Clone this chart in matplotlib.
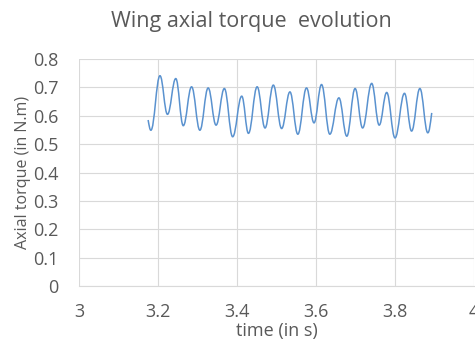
import numpy as np
import matplotlib.pyplot as plt
from matplotlib.path import Path
from matplotlib.patches import PathPatch

# Curve: start point, alternating troughs/peaks, end point
time_s = [3.175, 3.182, 3.205, 3.224, 3.245, 3.264, 3.285, 3.306, 3.327, 3.347,
          3.368, 3.389, 3.412, 3.429, 3.451, 3.471, 3.492, 3.513, 3.534, 3.554,
          3.576, 3.595, 3.614, 3.635, 3.658, 3.678, 3.699, 3.718, 3.741, 3.760,
          3.779, 3.800, 3.824, 3.842, 3.863, 3.883, 3.893]
torque = [0.585, 0.549, 0.741, 0.605, 0.731, 0.565, 0.702, 0.549, 0.698, 0.567,
          0.696, 0.526, 0.669, 0.538, 0.702, 0.557, 0.708, 0.555, 0.684, 0.535,
          0.698, 0.575, 0.710, 0.535, 0.663, 0.528, 0.696, 0.557, 0.714, 0.567,
          0.682, 0.522, 0.679, 0.546, 0.696, 0.540, 0.610]

x_ticks = [3, 3.2, 3.4, 3.6, 3.8, 4]
x_tick_labels = ['3', '3.2', '3.4', '3.6', '3.8', '4']
y_ticks = [0, 0.1, 0.2, 0.3, 0.4, 0.5, 0.6, 0.7, 0.8]
y_tick_labels = ['0', '0.1', '0.2', '0.3', '0.4', '0.5', '0.6', '0.7', '0.8']

TEXT_COLOR = '#595959'
GRID_COLOR = '#d9d9d9'
LINE_COLOR = '#5a92cf'

plt.rcParams['font.family'] = ['Open Sans', 'DejaVu Sans']

fig = plt.figure(figsize=(4.75, 3.45), dpi=100)
ax = fig.add_axes([79 / 475, 1 - 286 / 345, 395 / 475, 227 / 345])


def smooth_path(xs, ys):
    """Excel-like smoothed line: cubic Bezier segments, flat at the extrema."""
    n = len(xs)
    slopes = [0.0] * n
    slopes[0] = 1.5 * (ys[1] - ys[0]) / (xs[1] - xs[0])
    slopes[-1] = 1.5 * (ys[-1] - ys[-2]) / (xs[-1] - xs[-2])
    verts = [(xs[0], ys[0])]
    codes = [Path.MOVETO]
    for i in range(n - 1):
        d = (xs[i + 1] - xs[i]) * 0.4
        verts += [(xs[i] + d, ys[i] + d * slopes[i]),
                  (xs[i + 1] - d, ys[i + 1] - d * slopes[i + 1]),
                  (xs[i + 1], ys[i + 1])]
        codes += [Path.CURVE4] * 3
    return Path(verts, codes)


ax.add_patch(PathPatch(smooth_path(time_s, torque), facecolor='none',
                       edgecolor=LINE_COLOR, lw=1.1))

ax.set_xlim(3, 4)
ax.set_ylim(0, 0.8)
ax.set_xticks(x_ticks, x_tick_labels)
ax.set_yticks(y_ticks, y_tick_labels)
ax.grid(True, color=GRID_COLOR, lw=0.8)
ax.set_axisbelow(True)
for side in ['top', 'right', 'left']:
    ax.spines[side].set_visible(False)
ax.spines['bottom'].set_color(GRID_COLOR)
ax.tick_params(length=0, labelsize=13, colors=TEXT_COLOR)
ax.tick_params(axis='x', pad=12)
ax.tick_params(axis='y', pad=15)

ax.set_xlabel('time (in s)', fontsize=13, color=TEXT_COLOR, labelpad=1)
ax.set_ylabel('Axial torque (in N.m)', fontsize=11.5, color=TEXT_COLOR, labelpad=1)
fig.text(251 / 475, 1 - 22 / 345, 'Wing axial torque  evolution', fontsize=15.5,
         color=TEXT_COLOR, ha='center', va='center')

fig.savefig('out.png', dpi=100)
